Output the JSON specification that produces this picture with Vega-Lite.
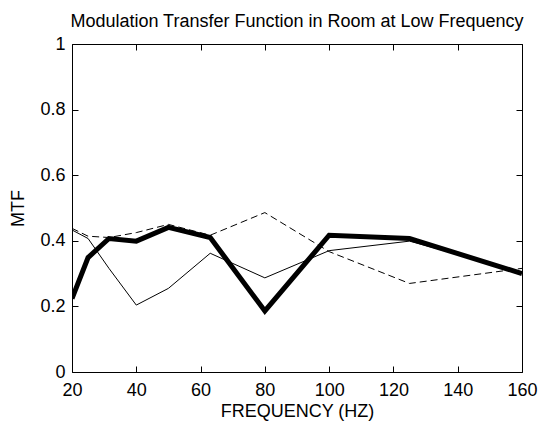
{
  "$schema": "https://vega.github.io/schema/vega-lite/v6.json",
  "width": 450,
  "height": 328,
  "autosize": {"type": "none"},
  "padding": {"left": 72, "top": 44, "right": 18, "bottom": 49},
  "background": "white",
  "title": {
    "text": "Modulation Transfer Function in Room at Low Frequency",
    "font": "Liberation Sans",
    "fontSize": 18,
    "fontWeight": "normal",
    "color": "black",
    "anchor": "middle",
    "offset": 4
  },
  "config": {
    "view": {"stroke": "black", "strokeWidth": 1},
    "axis": {
      "labelFont": "Liberation Sans",
      "labelFontSize": 18,
      "labelColor": "black",
      "labelFlush": false,
      "labelOverlap": false,
      "titleFont": "Liberation Sans",
      "titleFontSize": 18,
      "titleFontWeight": "normal",
      "titleColor": "black",
      "domain": false,
      "grid": false,
      "tickColor": "black",
      "tickSize": 6,
      "tickWidth": 1
    }
  },
  "data": {
    "values": [
      {"freq": 20, "mtf": 0.224, "series": "thick"},
      {"freq": 25, "mtf": 0.349, "series": "thick"},
      {"freq": 31.5, "mtf": 0.407, "series": "thick"},
      {"freq": 40, "mtf": 0.399, "series": "thick"},
      {"freq": 50, "mtf": 0.441, "series": "thick"},
      {"freq": 63, "mtf": 0.41, "series": "thick"},
      {"freq": 80, "mtf": 0.186, "series": "thick"},
      {"freq": 100, "mtf": 0.417, "series": "thick"},
      {"freq": 125, "mtf": 0.407, "series": "thick"},
      {"freq": 160, "mtf": 0.3, "series": "thick"},
      {"freq": 20, "mtf": 0.433, "series": "thin"},
      {"freq": 25, "mtf": 0.407, "series": "thin"},
      {"freq": 31.5, "mtf": 0.316, "series": "thin"},
      {"freq": 40, "mtf": 0.204, "series": "thin"},
      {"freq": 50, "mtf": 0.255, "series": "thin"},
      {"freq": 63, "mtf": 0.362, "series": "thin"},
      {"freq": 80, "mtf": 0.287, "series": "thin"},
      {"freq": 100, "mtf": 0.37, "series": "thin"},
      {"freq": 125, "mtf": 0.399, "series": "thin"},
      {"freq": 160, "mtf": 0.305, "series": "thin"},
      {"freq": 20, "mtf": 0.438, "series": "dashed"},
      {"freq": 25, "mtf": 0.414, "series": "dashed"},
      {"freq": 31.5, "mtf": 0.41, "series": "dashed"},
      {"freq": 40, "mtf": 0.425, "series": "dashed"},
      {"freq": 50, "mtf": 0.45, "series": "dashed"},
      {"freq": 63, "mtf": 0.417, "series": "dashed"},
      {"freq": 80, "mtf": 0.486, "series": "dashed"},
      {"freq": 100, "mtf": 0.367, "series": "dashed"},
      {"freq": 125, "mtf": 0.27, "series": "dashed"},
      {"freq": 160, "mtf": 0.316, "series": "dashed"}
    ]
  },
  "layer": [
    {
      "transform": [{"filter": "datum.series === 'thin'"}],
      "mark": {"type": "line", "color": "black", "clip": true, "strokeWidth": 1},
      "encoding": {
        "x": {
          "field": "freq", "type": "quantitative",
          "scale": {"domain": [20, 160], "nice": false},
          "axis": {"orient": "bottom", "title": "FREQUENCY (HZ)", "values": [20, 40, 60, 80, 100, 120, 140, 160], "ticks": false, "labelPadding": 9, "titlePadding": 3}
        },
        "y": {
          "field": "mtf", "type": "quantitative",
          "scale": {"domain": [0, 1], "nice": false},
          "axis": {"orient": "left", "title": "MTF", "values": [0, 0.2, 0.4, 0.6, 0.8, 1], "format": "~g", "ticks": false, "labelPadding": 7, "titlePadding": 12}
        }
      }
    },
    {
      "transform": [{"filter": "datum.series === 'dashed'"}],
      "mark": {"type": "line", "color": "black", "clip": true, "strokeWidth": 1, "strokeDash": [7, 4]},
      "encoding": {
        "x": {
          "field": "freq", "type": "quantitative",
          "scale": {"domain": [20, 160], "nice": false},
          "axis": {"orient": "top", "offset": -328, "title": null, "labels": false, "values": [20, 40, 60, 80, 100, 120, 140, 160]}
        },
        "y": {
          "field": "mtf", "type": "quantitative",
          "scale": {"domain": [0, 1], "nice": false},
          "axis": {"orient": "right", "offset": -450, "title": null, "labels": false, "values": [0, 0.2, 0.4, 0.6, 0.8, 1]}
        }
      }
    },
    {
      "transform": [{"filter": "datum.series === 'thick'"}],
      "mark": {"type": "line", "color": "black", "clip": true, "strokeWidth": 5, "strokeJoin": "miter"},
      "encoding": {
        "x": {
          "field": "freq", "type": "quantitative",
          "scale": {"domain": [20, 160], "nice": false},
          "axis": {"orient": "bottom", "offset": -328, "title": null, "labels": false, "values": [20, 40, 60, 80, 100, 120, 140, 160]}
        },
        "y": {
          "field": "mtf", "type": "quantitative",
          "scale": {"domain": [0, 1], "nice": false},
          "axis": {"orient": "left", "offset": -450, "title": null, "labels": false, "values": [0, 0.2, 0.4, 0.6, 0.8, 1]}
        }
      }
    }
  ],
  "resolve": {"axis": {"x": "independent", "y": "independent"}}
}
